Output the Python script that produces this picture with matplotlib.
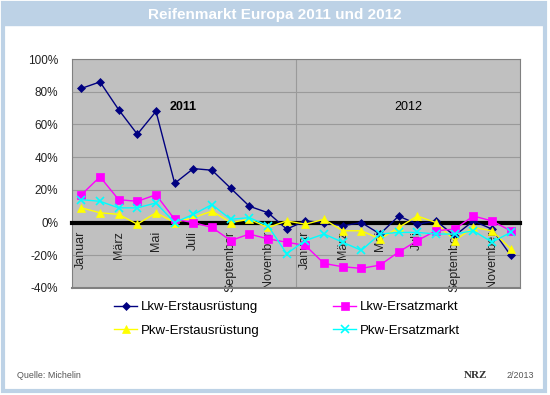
import matplotlib
matplotlib.use("Agg")
import matplotlib.pyplot as plt
from matplotlib.patches import Rectangle

plt.rcParams["font.family"] = ["Liberation Sans", "DejaVu Sans"]

# --- data (year-over-year change in %, Jan 2011 .. Dec 2012) ---------------
months = ["Januar", "Februar", "März", "April", "Mai", "Juni", "Juli",
          "August", "September", "Oktober", "November", "Dezember"] * 2
lkw_erst = [82, 86, 69, 54, 68, 24, 33, 32, 21, 10, 6, -4,
            1, 0, -2, 0, -7, 4, -1, 1, -8, 1, -4, -20]
lkw_ersatz = [17, 28, 14, 13, 17, 2, 0, -3, -11, -7, -10, -12,
              -14, -25, -27, -28, -26, -18, -11, -5, -4, 4, 1, -5]
pkw_erst = [9, 6, 5, -1, 6, 0, 3, 7, 0, 2, -3, 1,
            -1, 2, -5, -5, -10, -3, 4, 0, -11, -3, -5, -16]
pkw_ersatz = [14, 13, 9, 9, 12, 0, 5, 11, 2, 3, -2, -19,
              -11, -7, -12, -17, -7, -6, -6, -7, -7, -5, -12, -6]
yticks = [-40, -20, 0, 20, 40, 60, 80, 100]

series = [
    ("Lkw-Erstausrüstung", lkw_erst, "#000080", "D", 4),
    ("Pkw-Erstausrüstung", pkw_erst, "#FFFF00", "^", 6),
    ("Lkw-Ersatzmarkt", lkw_ersatz, "#FF00FF", "s", 6),
    ("Pkw-Ersatzmarkt", pkw_ersatz, "#00FFFF", "x", 6),
]

fig = plt.figure(figsize=(5.5, 3.95), dpi=100)
frame_blue = "#BDD2E6"

# outer frame + title bar
fig.patches.append(Rectangle((3 / 550, 4 / 395), 542 / 550, 388 / 395,
                             transform=fig.transFigure, fill=False,
                             edgecolor=frame_blue, lw=3, zorder=0))
fig.patches.append(Rectangle((3 / 550, 1 - 25 / 395), 542 / 550, 22 / 395,
                             transform=fig.transFigure, color=frame_blue,
                             zorder=0))
fig.text(0.5, 1 - 14.5 / 395, "Reifenmarkt Europa 2011 und 2012",
         ha="center", va="center", color="white", fontsize=11,
         fontweight="bold")

ax = fig.add_axes([72 / 550, 1 - 288 / 395, 448 / 550, 229 / 395])
ax.set_facecolor("#C0C0C0")
x = list(range(len(months)))
for label, vals, col, mk, ms in series:
    ax.plot(x, vals, color=col, lw=1, marker=mk, markersize=ms,
            markeredgewidth=1.2 if mk == "x" else 0.5, markeredgecolor=col,
            label=label, zorder=3)

ax.set_xlim(-0.5, 23.5)
ax.set_ylim(-40, 100)
ax.set_yticks(yticks)
ax.set_yticklabels([f"{v}%" for v in yticks], fontsize=8.5, color="#222222")
ax.yaxis.grid(True, color="#9A9A9A", lw=0.8)
ax.axvline(11.5, color="#9A9A9A", lw=0.8)
ax.set_axisbelow(True)
for s in ("top", "left", "right"):
    ax.spines[s].set_color("#808080")
ax.spines["bottom"].set_position(("data", 0))
ax.spines["bottom"].set_color("black")
ax.spines["bottom"].set_linewidth(3)
ax.spines["bottom"].set_zorder(2.8)
ax.axhline(-40, color="#808080", lw=1.5, clip_on=False)
ax.tick_params(axis="y", length=0, pad=10)

ax.set_xticks(x[::2])
ax.set_xticklabels(months[::2], rotation=90, fontsize=9, color="#222222")
ax.tick_params(axis="x", length=0, pad=6)

ax.text(5.45, 70.7, "2011", ha="center", va="center", fontsize=9,
        fontweight="bold")
ax.text(17.5, 70.7, "2012", ha="center", va="center", fontsize=9)

fig.legend(loc="upper left", bbox_to_anchor=(114 / 550, 1 - 301 / 395),
           ncol=2, frameon=False, fontsize=9.5, handlelength=1.75,
           handletextpad=0.25, columnspacing=5.6, labelspacing=0.85,
           borderpad=0, borderaxespad=0)

fig.text(17 / 550, 1 - 375 / 395, "Quelle: Michelin", fontsize=6.4,
         color="#555555", va="center")
fig.text(475 / 550, 1 - 375 / 395, "NRZ", fontsize=8, fontweight="bold",
         family="Liberation Serif", color="#333333", ha="center",
         va="center")
fig.text(534 / 550, 1 - 375 / 395, "2/2013", fontsize=6.4, color="#555555",
         ha="right", va="center")

fig.savefig("out.png", dpi=100)
